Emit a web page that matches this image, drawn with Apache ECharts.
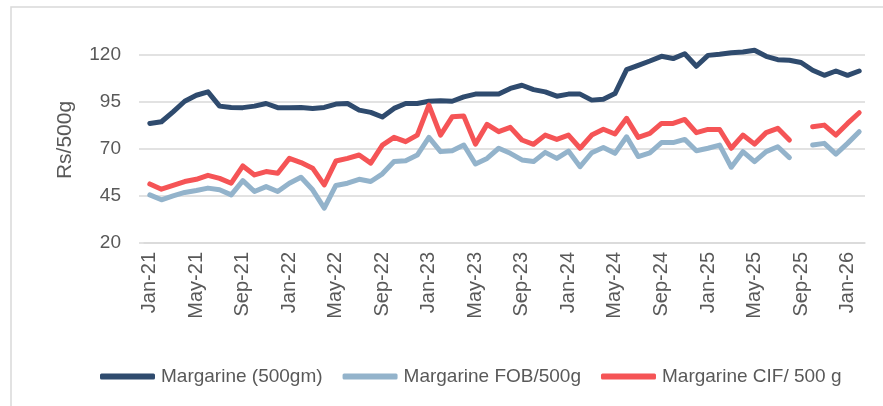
<!DOCTYPE html>
<html>
<head>
<meta charset="utf-8">
<script src="https://cdn.jsdelivr.net/npm/echarts@6/dist/echarts.min.js"></script>
<style>
  html, body { margin: 0; padding: 0; background: #fff; }
  #chart { width: 883px; height: 406px; }
</style>
</head>
<body>
<div id="chart"></div>
<script>
// monthly categories, Jan-21 .. Feb-26
var months = ['Jan-21','Feb-21','Mar-21','Apr-21','May-21','Jun-21','Jul-21','Aug-21','Sep-21','Oct-21','Nov-21','Dec-21',
  'Jan-22','Feb-22','Mar-22','Apr-22','May-22','Jun-22','Jul-22','Aug-22','Sep-22','Oct-22','Nov-22','Dec-22',
  'Jan-23','Feb-23','Mar-23','Apr-23','May-23','Jun-23','Jul-23','Aug-23','Sep-23','Oct-23','Nov-23','Dec-23',
  'Jan-24','Feb-24','Mar-24','Apr-24','May-24','Jun-24','Jul-24','Aug-24','Sep-24','Oct-24','Nov-24','Dec-24',
  'Jan-25','Feb-25','Mar-25','Apr-25','May-25','Jun-25','Jul-25','Aug-25','Sep-25','Oct-25','Nov-25','Dec-25',
  'Jan-26','Feb-26'];

var margarine = [83.6,84.5,89.8,95.4,98.6,100.4,92.8,92.1,92,92.8,94.2,92,
  92,92.1,91.6,92.1,93.9,94.2,90.7,89.5,87,91.6,94.2,94.2,
  95.4,95.6,95.4,97.7,99.2,99.2,99.2,102.2,103.9,101.6,100.4,98.1,
  99.2,99.2,96,96.5,99.5,112.2,114.5,116.8,119.3,118.1,120.7,114,
  119.8,120.4,121.2,121.6,122.5,119.3,117.5,117.2,116,111.9,109.2,111.5,
  109.2,111.5];

var marFob = [45.6,43,45.1,46.9,47.9,49.2,48.3,45.6,53.2,47.4,50,47.4,
  51.8,55,48.3,38.6,50.6,51.8,53.9,52.7,56.8,63.3,63.8,66.8,
  76.2,68.6,69.1,72.1,62,65,70.4,67.7,64.2,63.3,68.2,65,
  68.9,60.6,68,70.8,67.7,76.5,66,68,73.4,73.4,75.1,69.1,
  70.4,72.1,60.3,68.6,63.3,68.6,71.2,65.4,null,72.1,73,67.3,
  73,79.2];

var marCif = [51.4,48.6,50.6,52.7,53.9,56,54.4,51.8,61,56.2,58,57.1,
  65,62.8,59.8,50.9,63.6,65,66.8,62.5,72.1,76.2,73.9,77.4,
  93.3,77.4,87.1,87.5,72.6,83.1,79.2,81.5,74.8,72.5,77.4,75.1,
  77.4,70.4,77.4,80.5,78,86.3,76.2,78.3,83.6,83.6,85.7,78.7,
  80.4,80.4,70.4,77.4,72.6,78.7,81,74.8,null,81.8,82.7,77.4,
  83.6,89.3];

var yTicks = [20, 45, 70, 95, 120];

var myChart = echarts.init(document.getElementById('chart'));
var txt = '#595959';
var font = 'Liberation Sans, Arial, sans-serif';

function lineSeries(name, data, color) {
  return {
    name: name,
    type: 'line',
    data: data,
    showSymbol: false,
    symbol: 'none',
    clip: false,
    connectNulls: false,
    lineStyle: { width: 5, color: color, cap: 'round', join: 'round' },
    itemStyle: { color: color }
  };
}

var option = {
  animation: false,
  backgroundColor: '#fff',
  grid: { left: 144, right: 18, top: 55, bottom: 163 },
  graphic: [
    { type: 'rect', shape: { x: 11, y: 7, width: 900, height: 420 },
      style: { fill: 'none', stroke: '#d9d9d9', lineWidth: 1.5 }, silent: true },
    { type: 'text', x: 65, y: 140, rotation: Math.PI / 2,
      style: { text: 'Rs/500g', fill: txt, font: '21px ' + font, textAlign: 'center', textVerticalAlign: 'middle' } }
  ],
  legend: {
    left: 95, top: 362,
    icon: 'roundRect', itemWidth: 55, itemHeight: 6, itemGap: 20,
    textStyle: { color: txt, fontSize: 19, fontFamily: font, padding: [0, 0, 0, 1] },
    data: ['Margarine (500gm)', 'Margarine FOB/500g', 'Margarine CIF/ 500 g']
  },
  xAxis: {
    type: 'category',
    data: months,
    boundaryGap: true,
    axisLine: { lineStyle: { color: '#d9d9d9', width: 1.5 } },
    axisTick: { interval: 3, length: 5, lineStyle: { color: '#d9d9d9', width: 1.5 } },
    axisLabel: { interval: 3, rotate: 90, margin: 9, color: txt, fontSize: 20, fontFamily: font }
  },
  yAxis: {
    type: 'value',
    min: yTicks[0], max: yTicks[yTicks.length - 1], interval: 25,
    axisLine: { show: false },
    axisTick: { show: true, length: 5, lineStyle: { color: '#d9d9d9', width: 1.5 } },
    splitLine: { lineStyle: { color: '#d9d9d9', width: 1.5 } },
    axisLabel: { margin: 23, color: txt, fontSize: 19, fontFamily: font }
  },
  series: [
    lineSeries('Margarine (500gm)', margarine, '#2f4b6e'),
    lineSeries('Margarine FOB/500g', marFob, '#93b3cb'),
    lineSeries('Margarine CIF/ 500 g', marCif, '#f55456')
  ]
};

myChart.setOption(option);
</script>
</body>
</html>
